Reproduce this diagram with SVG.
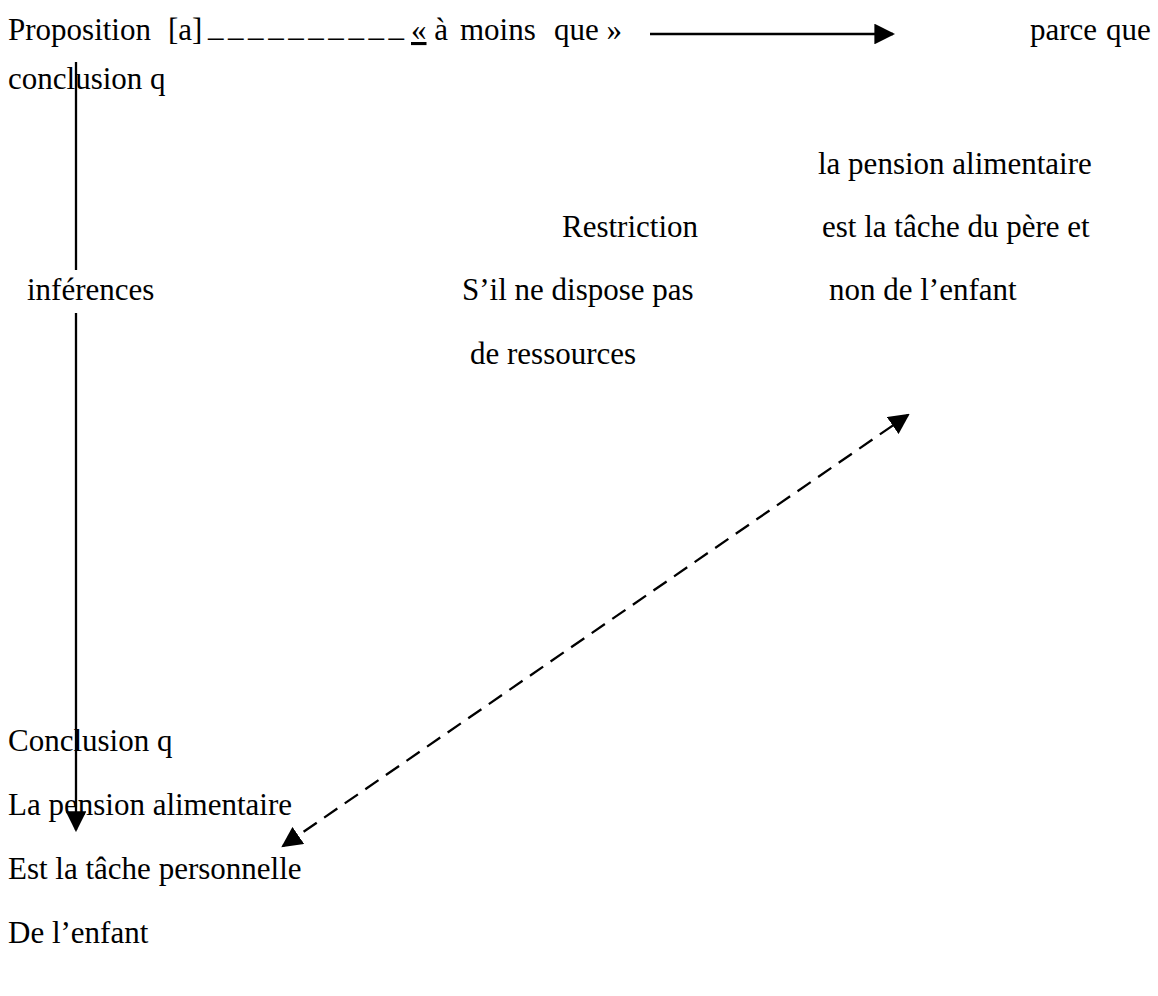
<svg xmlns="http://www.w3.org/2000/svg" width="1158" height="996" viewBox="0 0 1158 996">
  <style>
    text { font-family: "Liberation Serif", "Times New Roman", serif; font-size: 31px; fill: #000; }
    .ul { text-decoration: underline; }
    .link { stroke: #000; stroke-width: 2.3; fill: none; }
    .dash { stroke-dasharray: 16 9; }
  </style>
  <defs>
    <marker id="head" viewBox="0 0 10 10" refX="9" refY="5" markerWidth="9" markerHeight="9" orient="auto-start-reverse">
      <path d="M0,0 L10,5 L0,10 Z" fill="#000"/>
    </marker>
  </defs>

  <g id="premise">
    <text x="8" y="40">Proposition</text>
    <text x="168" y="40">[a]</text>
    <text x="208" y="36" textLength="196" lengthAdjust="spacing">_ _ _ _ _ _ _ _ _ _</text>
    <text x="411" y="40"><tspan class="ul">«</tspan> à</text>
    <text x="460" y="40">moins</text>
    <text x="554" y="40">que »</text>
    <text x="1030" y="40">parce</text>
    <text x="1106" y="40">que</text>
    <text x="8" y="89">conclusion q</text>
  </g>

  <g id="justification">
    <text x="818" y="174">la pension alimentaire</text>
    <text x="822" y="237">est la tâche du père et</text>
    <text x="829" y="300">non de l’enfant</text>
  </g>

  <g id="restriction">
    <text x="562" y="237">Restriction</text>
    <text x="462" y="300">S’il ne dispose pas</text>
    <text x="470" y="364">de ressources</text>
  </g>

  <g id="inferences">
    <text x="27" y="300">inférences</text>
  </g>

  <g id="conclusion">
    <text x="8" y="751">Conclusion q</text>
    <text x="8" y="815">La pension alimentaire</text>
    <text x="8" y="879">Est la tâche personnelle</text>
    <text x="8" y="943">De l’enfant</text>
  </g>

  <g id="connectors">
    <line class="link" x1="650" y1="34" x2="893" y2="34" marker-end="url(#head)"/>
    <line class="link" x1="76" y1="62" x2="76" y2="270"/>
    <line class="link" x1="76" y1="313" x2="76" y2="830" marker-end="url(#head)"/>
    <line class="link dash" x1="283" y1="846" x2="908" y2="415" marker-start="url(#head)" marker-end="url(#head)"/>
  </g>
</svg>
